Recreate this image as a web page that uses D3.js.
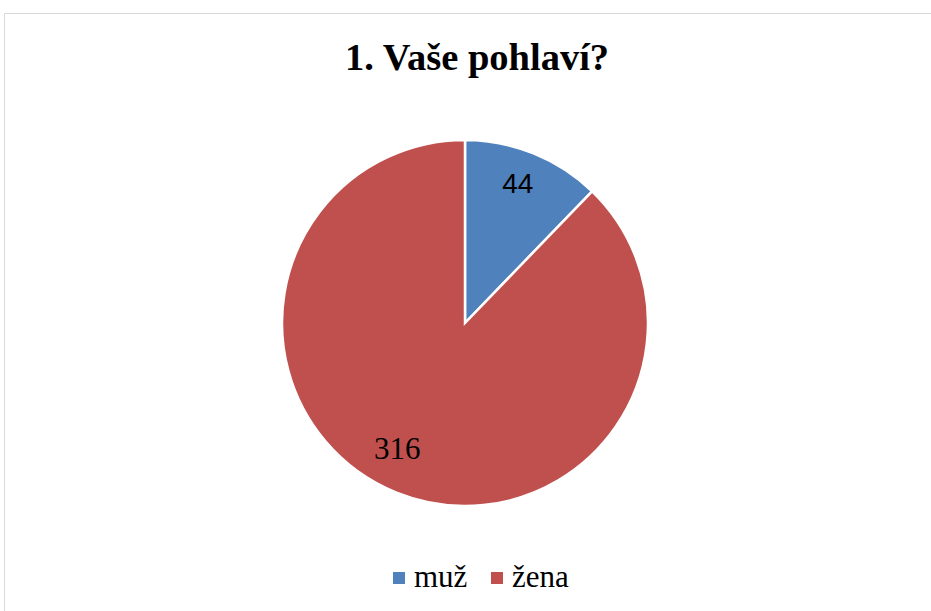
<!DOCTYPE html>
<html>
<head>
<meta charset="utf-8">
<script src="https://cdn.jsdelivr.net/npm/d3@7"></script>
<style>
  body { margin: 0; background: #fff; }
  svg { display: block; }
  .serif { font-family: "Liberation Serif", "Tinos", "Times New Roman", "DejaVu Serif", serif; }
  .sans { font-family: "Liberation Sans", Arial, sans-serif; }
</style>
</head>
<body>
<svg id="chart" width="931" height="611"></svg>
<script>
var title = "1. Vaše pohlaví?";
var categories = ["muž", "žena"];
var values = [44, 316];
var colors = ["#4f81bd", "#c0504d"];

var svg = d3.select("#chart");

// chart frame
svg.append("rect")
    .attr("x", 4.5).attr("y", 13.5)
    .attr("width", 940).attr("height", 610)
    .attr("fill", "#fff")
    .attr("stroke", "#d9d9d9")
    .attr("stroke-width", 1);

svg.append("text")
    .attr("class", "serif")
    .attr("x", 477).attr("y", 70)
    .attr("text-anchor", "middle")
    .style("font-weight", "bold")
    .style("font-size", "38.5px")
    .text(title);

var cx = 465, cy = 323, radius = 183;

var pie = d3.pie().sort(null).value(function(d) { return d; });
var arc = d3.arc().innerRadius(0).outerRadius(radius);
var labelArc = d3.arc().innerRadius(radius * 0.8).outerRadius(radius * 0.8);

var g = svg.append("g").attr("transform", "translate(" + cx + "," + cy + ")");
var arcs = pie(values);

g.selectAll("path")
    .data(arcs)
    .enter()
    .append("path")
    .attr("d", arc)
    .attr("fill", function(d, i) { return colors[i]; })
    .attr("stroke", "#fff")
    .attr("stroke-width", 2.5)
    .attr("stroke-linejoin", "miter");

// data labels (excel "best fit" nudges them a bit)
var nudge = [[-2, 6], [-13, 0]];
g.selectAll("text.lbl")
    .data(arcs)
    .enter()
    .append("text")
    .attr("class", function(d) { return d.index == 0 ? "lbl sans" : "lbl serif"; })
    .attr("x", function(d) { return labelArc.centroid(d)[0] + nudge[d.index][0]; })
    .attr("y", function(d) { return labelArc.centroid(d)[1] + nudge[d.index][1]; })
    .attr("text-anchor", "middle")
    .style("font-size", function(d) { return d.index == 0 ? "28px" : "31px"; })
    .attr("fill", "#000")
    .text(function(d) { return d.data; });

// legend
var legendX = [393, 491];
var legend = svg.append("g");
categories.forEach(function(c, i) {
    legend.append("rect")
        .attr("x", legendX[i]).attr("y", 572)
        .attr("width", 12).attr("height", 12)
        .attr("fill", colors[i]);
    legend.append("text")
        .attr("class", "serif")
        .attr("x", legendX[i] + 21).attr("y", 587)
        .style("font-size", "31px")
        .text(c);
});
</script>
</body>
</html>
